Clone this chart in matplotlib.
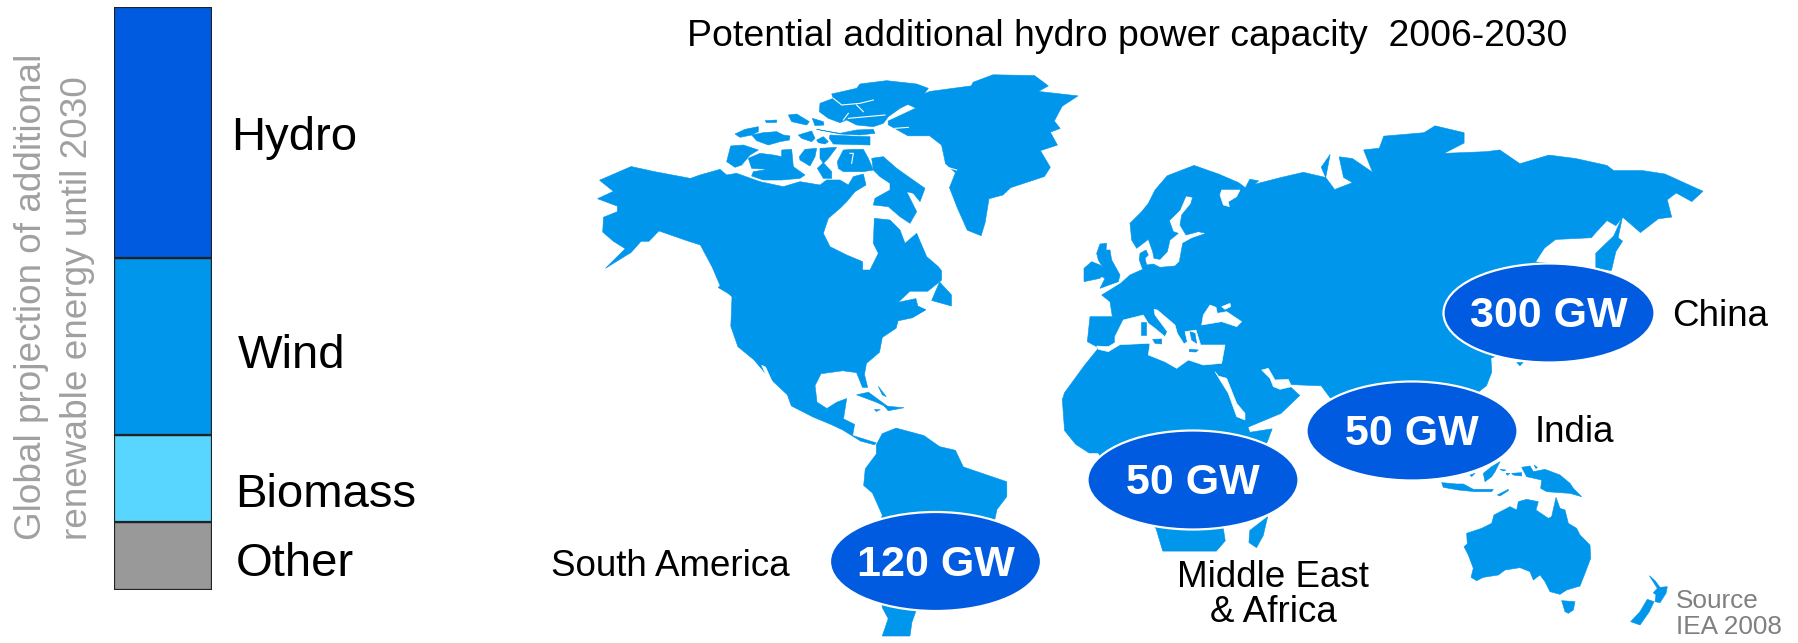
import matplotlib
matplotlib.use("Agg")
import matplotlib.pyplot as plt
from matplotlib.patches import Ellipse, Polygon

plt.rcParams['font.family'] = ['Liberation Sans', 'DejaVu Sans']

# stacked bar, share of additional renewable energy (bottom to top)
sources = ['Other', 'Biomass', 'Wind', 'Hydro']
shares = [11.6, 15.0, 30.4, 43.0]
source_colors = ['#999999', '#59D6FF', '#0096EB', '#005BE0']
source_label_x = [236, 235, 238, 231]
source_label_y = [564, 495, 356, 138]

# hydro capacity per region
regions = ['South America', 'Middle East\n& Africa', 'India', 'China']
capacity_gw = [120, 50, 50, 300]
bubble_x = [935.5, 1193, 1412, 1549]
bubble_y = [561.5, 480, 431, 313]
region_label_x = [551, 1273, 1535, 1672]
region_label_y = [566, 595, 433, 317]
region_label_ha = ['left', 'center', 'left', 'left']

# America, grid units
na_alaska = [(100, 325), (180, 288), (240, 302), (330, 320)]
na_south = [(965, 570), (965, 595), (930, 625), (885, 625), (855, 655), (900, 645), (905, 665), (925, 675),
            (890, 697), (855, 705), (850, 725), (815, 750), (808, 790), (775, 820), (770, 850), (778, 885),
            (765, 885), (750, 845), (715, 840), (660, 848), (645, 880), (650, 925), (675, 942), (700, 925),
            (725, 915), (717, 970), (745, 985), (740, 1015), (800, 1035), (795, 1040), (760, 1030), (715, 1000),
            (685, 985), (640, 965), (585, 935), (575, 905), (530, 860), (490, 810), (450, 775), (432, 720),
            (435, 640), (405, 610), (385, 560), (355, 500), (320, 488), (250, 462), (225, 490), (205, 490),
            (180, 520), (115, 563), (165, 510), (135, 490), (108, 465), (110, 425), (145, 410), (145, 395),
            (95, 375), (135, 355)]
greenland = [(830, 165), (900, 130), (870, 115), (935, 85), (1040, 70), (1045, 60), (1095, 40), (1200, 42),
             (1235, 70), (1210, 85), (1310, 97), (1270, 125), (1250, 165), (1265, 185), (1240, 195), (1258, 230),
             (1215, 245), (1240, 290), (1225, 315), (1140, 345), (1120, 365), (1085, 375), (1075, 440), (1065, 475),
             (1030, 460), (1005, 400), (985, 345), (1000, 305), (975, 280), (965, 230), (935, 205), (880, 205),
             (830, 175)]
south_america = [(800, 1040), (815, 1010), (850, 995), (920, 1015), (960, 1045), (1000, 1055), (1020, 1100),
                 (1130, 1140), (1130, 1180), (1105, 1215), (1100, 1240), (1010, 1400), (900, 1490), (890, 1520),
                 (885, 1557), (815, 1557), (830, 1510), (815, 1480), (800, 1300), (815, 1230), (790, 1170),
                 (768, 1150), (772, 1105), (800, 1065)]
west_islands = [
    [(960, 600), (990, 635), (990, 665), (940, 650)],
    [(890, 680), (925, 675), (890, 697)],
    [(405, 610), (445, 635), (440, 640), (400, 615)],
    [(750, 905), (780, 898), (840, 945), (800, 925)],
    [(820, 935), (870, 940), (830, 948)],
    [(795, 945), (810, 945), (800, 950)],
    [(805, 882), (825, 910), (815, 905)],
]
gulf_california = [(510, 825), (520, 830), (552, 905), (535, 885)]

# Canadian arctic, finer grid
na_arctic_coast = [(0, 315), (60, 298), (80, 315), (110, 310), (180, 335), (250, 350), (300, 335), (360, 345),
                   (380, 330), (420, 330), (445, 345), (460, 320), (490, 312), (498, 345), (465, 365), (440, 395),
                   (420, 415), (385, 445), (370, 490), (390, 530), (440, 555), (488, 575), (488, 600), (510, 600),
                   (535, 550), (520, 520), (523, 445), (570, 450), (600, 480), (615, 520), (650, 490), (680, 560),
                   (715, 590)]
arctic_islands = [
    [(360, 100), (400, 85), (395, 72), (470, 55), (480, 42), (560, 32), (650, 42), (685, 55), (670, 75), (640, 95),
     (600, 115), (565, 140), (550, 160), (520, 170), (470, 165), (440, 150), (420, 158), (385, 145), (358, 125)],
    [(350, 178), (390, 185), (420, 190), (470, 180), (520, 178), (525, 190), (480, 195), (420, 192)],
    [(390, 195), (450, 198), (510, 200), (510, 225), (400, 222), (388, 205)],
    [(265, 135), (290, 132), (328, 155), (320, 165), (275, 155)],
    [(195, 152), (230, 150), (230, 157), (200, 158)],
    [(337, 145), (370, 155), (372, 165), (345, 167)],
    [(105, 192), (135, 178), (175, 170), (175, 185), (155, 195), (120, 202)],
    [(155, 195), (190, 188), (230, 185), (250, 195), (270, 198), (268, 210), (240, 215), (205, 225), (170, 212)],
    [(295, 195), (335, 183), (345, 205), (335, 215), (305, 205)],
    [(350, 210), (370, 200), (385, 215), (375, 222), (355, 218)],
    [(92, 228), (130, 225), (175, 240), (150, 255), (125, 285), (105, 292), (80, 275)],
    [(145, 265), (180, 250), (220, 255), (245, 260), (245, 240), (275, 238), (280, 290), (315, 315), (300, 325),
     (245, 330), (190, 330), (155, 318), (160, 305), (205, 298), (155, 295)],
    [(298, 260), (315, 238), (350, 235), (345, 260), (330, 288), (300, 270)],
    [(360, 235), (410, 232), (385, 265), (370, 280), (360, 265)],
    [(352, 295), (370, 278), (395, 305), (395, 325), (370, 325)],
    [(412, 275), (430, 240), (460, 238), (490, 238), (505, 265), (520, 300), (490, 305), (430, 305), (415, 295)],
    [(515, 265), (550, 260), (590, 295), (625, 320), (675, 355), (660, 395), (640, 370), (620, 365), (650, 425),
     (630, 460), (600, 440), (565, 410), (520, 405), (525, 385), (570, 360), (570, 340), (540, 320), (520, 300)],
]
arctic_channels = [
    [(400, 85), (425, 105), (480, 100), (520, 90)],
    [(470, 105), (490, 125)],
    [(430, 150), (445, 130)],
    [(445, 145), (555, 135)],
    [(450, 250), (460, 250), (455, 280)],
    [(585, 175), (625, 172)],
    [(735, 290), (770, 300)],
]

# Africa and Eurasia, grid units
old_world = [(130, 722), (100, 770), (55, 850), (50, 870), (55, 960), (80, 1000), (110, 1025), (130, 1025),
             (260, 1245), (275, 1310), (395, 1310), (415, 1280), (410, 1240), (510, 990), (520, 955), (470, 965),
             (466, 950), (540, 910), (582, 858), (555, 826), (630, 830), (650, 865), (700, 900), (980, 850),
             (1000, 830), (1012, 790), (1010, 750), (1100, 700), (1245, 490), (1110, 470), (1130, 430), (1155, 405),
             (1235, 400), (1245, 385), (1270, 350), (1290, 365), (1305, 340), (1345, 385), (1385, 345), (1415, 340),
             (1405, 290), (1425, 270), (1460, 295), (1485, 265), (1400, 215), (1350, 205), (1285, 205), (1270, 190),
             (1200, 170), (1140, 160), (1075, 185), (1030, 145), (1000, 150), (905, 155), (950, 125), (950, 95),
             (885, 75), (860, 95), (770, 105), (760, 140), (725, 145), (745, 210), (700, 170), (670, 165), (680, 225),
             (700, 240), (660, 260), (640, 225), (630, 195), (650, 158), (640, 225), (590, 210), (540, 225),
             (480, 245), (490, 235), (470, 230), (460, 255), (445, 240), (400, 215), (345, 190), (285, 220)]
east_islands = [
    [(1305, 338), (1295, 400), (1305, 410), (1290, 440), (1280, 495), (1245, 490), (1245, 445), (1265, 420),
     (1285, 395)],
    [(1068, 762), (1082, 762), (1075, 772)],
    [(510, 1210), (500, 1265), (485, 1300), (468, 1285), (470, 1250)],
]

# Europe and the Middle East, finer grid
europe_coast = [(225, 0), (205, 40), (185, 65), (150, 100), (155, 150), (170, 175), (205, 148), (218, 185), (222, 205),
                (240, 208), (262, 185), (270, 150), (295, 130), (280, 125), (268, 92), (300, 60), (318, 18), (338, 22),
                (332, 42), (305, 75), (300, 105), (318, 135), (355, 125), (378, 130), (335, 145), (308, 160),
                (298, 215), (285, 228), (240, 232), (220, 222), (200, 225), (195, 205), (205, 195), (198, 180),
                (180, 190), (178, 210), (188, 238), (150, 255), (122, 280), (90, 300), (65, 315), (90, 335), (97, 380),
                (30, 380), (22, 455), (50, 470)]
europe_seas = [
    [(50, 468), (85, 470), (105, 458), (105, 440), (130, 390), (190, 375), (205, 400), (225, 415), (255, 440),
     (262, 425), (225, 375), (222, 358), (232, 360), (285, 405), (292, 430), (312, 462), (322, 455), (315, 425),
     (348, 420), (362, 465), (435, 465), (425, 520), (370, 525), (325, 510), (290, 535), (255, 515), (205, 495),
     (210, 460), (120, 464), (85, 485), (55, 478)],
    [(365, 405), (370, 375), (390, 345), (408, 352), (412, 370), (440, 365), (485, 395), (470, 410), (425, 395),
     (395, 400)],
    [(425, 350), (450, 340), (452, 350), (435, 358)],
    [(405, 545), (415, 558), (440, 565), (470, 640), (495, 670), (495, 690), (470, 680), (445, 610), (420, 570)],
    [(425, 0), (480, 0), (470, 20), (445, 35), (448, 50), (430, 45), (420, 15)],
    [(545, 540), (565, 535), (585, 570), (625, 568), (635, 590), (600, 598), (580, 590), (570, 565)],
]
europe_islands = [
    [(60, 162), (80, 160), (78, 180), (90, 180), (95, 210), (120, 255), (115, 275), (60, 295), (75, 265), (55, 255),
     (70, 235), (55, 210), (50, 190)],
    [(12, 235), (35, 215), (60, 225), (78, 240), (60, 265), (12, 275)],
    [(183, 395), (198, 395), (198, 435), (183, 435)],
    [(218, 448), (245, 447), (245, 462), (225, 460)],
    [(328, 478), (355, 480), (348, 486), (328, 485)],
    [(330, 425), (345, 430), (350, 460), (335, 450)],
]

# Oceania, finer grid
oceania = [
    [(140, 220), (185, 205), (215, 190), (222, 165), (270, 140), (290, 150), (295, 125), (320, 118), (355, 125),
     (348, 150), (385, 175), (395, 170), (408, 112), (420, 145), (435, 150), (445, 190), (470, 205), (480, 225),
     (510, 255), (512, 295), (495, 340), (480, 378), (440, 390), (420, 403), (390, 395), (375, 365), (360, 345),
     (340, 360), (330, 335), (300, 323), (255, 330), (235, 345), (190, 352), (170, 362), (153, 352), (160, 325),
     (145, 285), (132, 260), (142, 252)],
    [(425, 422), (465, 425), (460, 450), (445, 460), (435, 455)],
    [(688, 347), (705, 362), (720, 382), (742, 380), (738, 400), (720, 428), (705, 425), (708, 405), (700, 398),
     (712, 385)],
    [(682, 418), (702, 425), (688, 455), (660, 495), (632, 485), (660, 455)],
    [(305, 22), (330, 18), (340, 35), (375, 28), (420, 45), (450, 70), (460, 85), (485, 110), (450, 100), (420, 98),
     (380, 95), (362, 85), (365, 60), (320, 50)],
    [(65, 68), (110, 72), (130, 72), (160, 88), (220, 88), (215, 95), (165, 95), (115, 90), (70, 82)],
    [(232, 105), (265, 88), (265, 92), (240, 108)],
    [(190, 40), (215, 20), (240, 5), (225, 35), (215, 50), (195, 65)],
    [(240, 28), (258, 30), (250, 33)],
    [(258, 40), (270, 40), (262, 46)],
    [(275, 40), (305, 38), (305, 48), (280, 45)],
    [(150, 45), (165, 40), (155, 50)],
    [(342, 15), (352, 22), (348, 26)],
]

LAND = '#0096EB'
BUBBLE = '#005BE0'


def west(pts):
    return [(560 + x / 2.529, 60 + y / 2.703) for x, y in pts]


def east(pts):
    return [(1040 + x / 2.24, 100 + y / 2.904) for x, y in pts]


def arctic(pts):
    return [(700 + x / 3, 70 + y / 3) for x, y in pts]


def europe(pts):
    return [(1080 + x / 3, 190 + y / 3) for x, y in pts]


def pacific(pts):
    return [(1420 + x / 3, 460 + y / 3) for x, y in pts]


def fill(ax, pts, color):
    ax.add_patch(Polygon(pts, closed=True, facecolor=color, edgecolor=color, linewidth=0.4))


fig = plt.figure(figsize=(17.99, 6.43), dpi=100)

# full figure axes in pixels for the map and the texts
ax = fig.add_axes([0, 0, 1, 1])
ax.set_xlim(0, 1799)
ax.set_ylim(643, 0)
ax.axis('off')

# land first, seas cut out in white, islands on top
fill(ax, west(na_alaska) + arctic(na_arctic_coast) + west(na_south), LAND)
fill(ax, west(greenland), LAND)
fill(ax, west(south_america), LAND)
fill(ax, east(old_world) + europe(europe_coast), LAND)
fill(ax, west(gulf_california), 'white')
for sea in europe_seas:
    fill(ax, europe(sea), 'white')
for shape in west_islands:
    fill(ax, west(shape), LAND)
for shape in arctic_islands:
    fill(ax, arctic(shape), LAND)
for line in arctic_channels:
    xs, ys = zip(*arctic(line))
    ax.plot(xs, ys, color='white', linewidth=0.8)
for shape in east_islands:
    fill(ax, east(shape), LAND)
for shape in europe_islands:
    fill(ax, europe(shape), LAND)
for shape in oceania:
    fill(ax, pacific(shape), LAND)

for x, y, gw in zip(bubble_x, bubble_y, capacity_gw):
    ax.add_patch(Ellipse((x, y), 211, 99, facecolor=BUBBLE, edgecolor='white', linewidth=1.6, zorder=3))
    ax.text(x, y + 3, f'{gw} GW', color='white', fontsize=31, fontweight='bold',
            ha='center', va='center', zorder=4)

for name, x, y, ha in zip(regions, region_label_x, region_label_y, region_label_ha):
    ax.text(x, y, name, fontsize=26.5, ha=ha, va='center', color='black', linespacing=1.0, zorder=4)

ax.text(1127, 36, 'Potential additional hydro power capacity  2006-2030', fontsize=26.9,
        ha='center', va='center', color='black')
ax.text(1676, 614, 'Source\nIEA 2008', fontsize=18.8, color='#808080', ha='left', va='center', linespacing=1.15)

ax.text(32, 540, 'Global projection of additional', fontsize=26.6, color='#A0A0A0',
        rotation=90, ha='center', va='bottom')
ax.text(78, 540, 'renewable energy until 2030', fontsize=26.6, color='#A0A0A0',
        rotation=90, ha='center', va='bottom')

for name, x, y in zip(sources, source_label_x, source_label_y):
    ax.text(x, y, name, fontsize=34, ha='left', va='center', color='black')

# stacked bar
bar_ax = fig.add_axes([114 / 1799, (643 - 590) / 643, 98 / 1799, 583 / 643])
bottom = 0
for share, color in zip(shares, source_colors):
    bar_ax.bar(0, share, width=1, bottom=bottom, color=color, edgecolor='#222222', linewidth=1.6)
    bottom += share
bar_ax.set_xlim(-0.5, 0.5)
bar_ax.set_ylim(0, sum(shares))
bar_ax.axis('off')

fig.savefig('out.png', dpi=100)
